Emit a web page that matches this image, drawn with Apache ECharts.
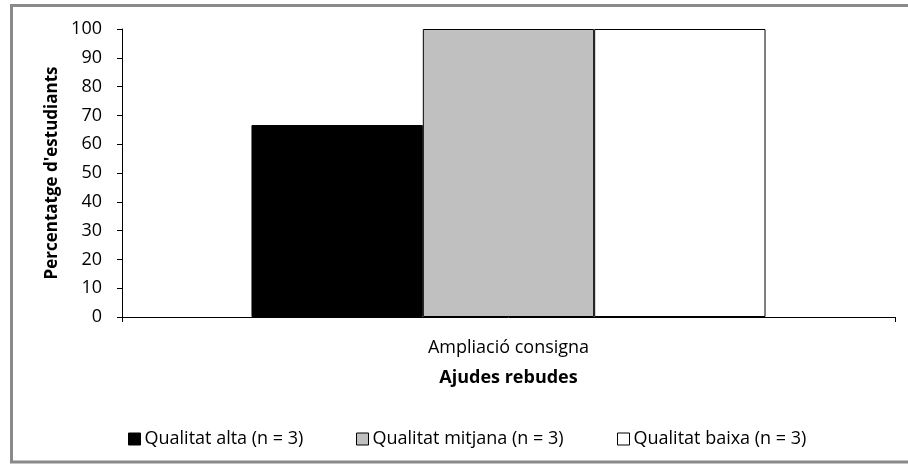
<!DOCTYPE html>
<html>
<head>
<meta charset="utf-8">
<script src="https://cdn.jsdelivr.net/npm/echarts@6/dist/echarts.min.js"></script>
<style>
  html, body { margin: 0; padding: 0; background: #fff; }
  #chart { width: 908px; height: 465px; }
</style>
</head>
<body>
<div id="chart"></div>
<script>
// Categories and series (percentage of students)
const categories = ['Ampliació consigna'];
const seriesNames = ['Qualitat alta (n = 3)', 'Qualitat mitjana (n = 3)', 'Qualitat baixa (n = 3)'];
const altaValues = [66.67];
const mitjanaValues = [100];
const baixaValues = [100];
const yTicks = { min: 0, max: 100, interval: 10 };

const FONT = 'Open Sans';
const fills = ['#000000', '#c0c0c0', '#ffffff'];
const valueSets = [altaValues, mitjanaValues, baixaValues];
const legendLefts = [123, 351, 612];

const chart = echarts.init(document.getElementById('chart'), null, { renderer: 'canvas' });

const series = seriesNames.map((name, i) => ({
  name: name,
  type: 'bar',
  data: valueSets[i],
  barGap: '0%',
  barCategoryGap: '33.5%',
  itemStyle: { color: fills[i], borderColor: '#000', borderWidth: 1 }
}));

const legends = seriesNames.map((name, i) => ({
  data: [name],
  left: legendLefts[i],
  top: 425,
  icon: 'rect',
  itemWidth: 12,
  itemHeight: 12,
  itemGap: 6,
  itemStyle: { borderColor: '#000', borderWidth: 1 },
  textStyle: { fontFamily: FONT, fontSize: 18, color: '#000', padding: [0, 0, 0, -1] },
  selectedMode: false
}));

chart.setOption({
  animation: false,
  backgroundColor: '#fff',
  graphic: [{
    type: 'rect',
    shape: { x: 11.5, y: 5.5, width: 1000, height: 456.5 },
    style: { fill: 'none', stroke: '#8a8a8a', lineWidth: 3 },
    silent: true
  }],
  legend: legends,
  grid: { left: 122, right: 13, top: 29, bottom: 148, containLabel: false },
  xAxis: {
    type: 'category',
    data: categories,
    name: 'Ajudes rebudes',
    nameLocation: 'middle',
    nameGap: 52,
    nameTextStyle: { fontFamily: FONT, fontSize: 18, fontWeight: 'bold', color: '#000' },
    axisLine: { lineStyle: { color: '#000', width: 1 } },
    axisTick: { show: true, length: 5, alignWithLabel: false, lineStyle: { color: '#000' } },
    axisLabel: { fontFamily: FONT, fontSize: 18, color: '#000', margin: 22 },
    splitLine: { show: false }
  },
  yAxis: {
    type: 'value',
    min: yTicks.min,
    max: yTicks.max,
    interval: yTicks.interval,
    name: "Percentatge d'estudiants",
    nameLocation: 'middle',
    nameGap: 49,
    nameTextStyle: { fontFamily: FONT, fontSize: 17, fontWeight: 'bold', color: '#000' },
    axisLine: { show: true, lineStyle: { color: '#000', width: 1 } },
    axisTick: { show: true, length: 5, lineStyle: { color: '#000' } },
    axisLabel: { fontFamily: FONT, fontSize: 18, color: '#000', margin: 20 },
    splitLine: { show: false }
  },
  series: series
});
</script>
</body>
</html>
